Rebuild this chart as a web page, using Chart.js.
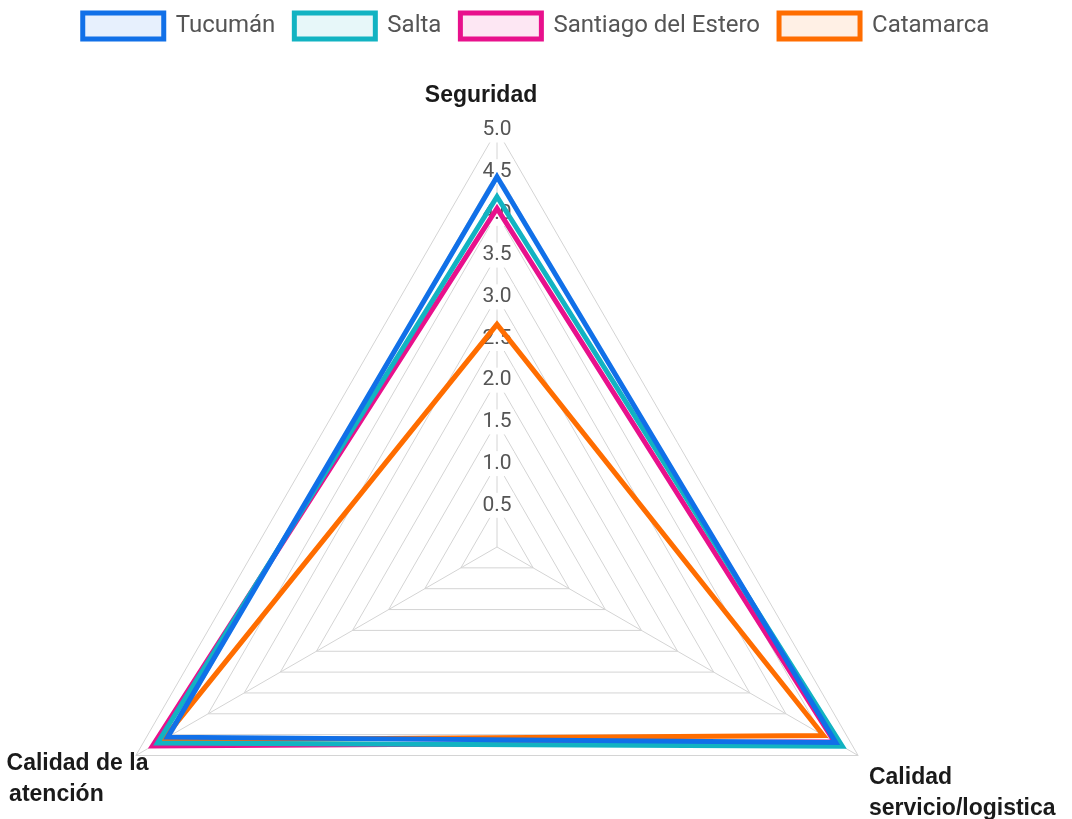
<!DOCTYPE html>
<html>
<head>
<meta charset="utf-8">
<script src="https://cdn.jsdelivr.net/npm/chart.js@4.4.0/dist/chart.umd.min.js"></script>
<style>
  html, body { margin: 0; padding: 0; background: #fff; overflow: hidden; }
  #wrap { width: 1072px; height: 819px; position: relative; }
</style>
</head>
<body>
<div id="wrap"><canvas id="c"></canvas></div>
<script>
// ---- data ----
const CATEGORIES = [
  ['Seguridad     '],
  ['Calidad', 'servicio/logistica'],
  ['Calidad de la', 'atención       ']
];
const SERIES_NAMES = ['Tucumán', 'Salta', 'Santiago del Estero', 'Catamarca'];
const TUCUMAN   = [4.44, 4.69, 4.56];
const SALTA     = [4.20, 4.78, 4.70];
const SANTIAGO  = [4.06, 4.67, 4.77];
const CATAMARCA = [2.67, 4.52, 4.63];
const TICK_LABELS = ['0.0', '0.5', '1.0', '1.5', '2.0', '2.5', '3.0', '3.5', '4.0', '4.5', '5.0'];

// ---- style ----
const LINE_COLORS = ['#1170e8', '#12b3c2', '#e8118c', '#ff6d00'];
const FILL_COLORS = ['rgba(17,112,232,0.1)', 'rgba(18,179,194,0.1)', 'rgba(232,17,140,0.1)', 'rgba(255,109,0,0.1)'];
const SERIES_VALUES = [TUCUMAN, SALTA, SANTIAGO, CATAMARCA];

// layout of the radial scale (center & radius in canvas px)
const CENTER_X = 497, CENTER_Y = 547, RADIUS = 417;

const datasets = SERIES_NAMES.map((name, i) => ({
  label: name,
  data: SERIES_VALUES[i],
  borderColor: LINE_COLORS[i],
  backgroundColor: FILL_COLORS[i],
  borderWidth: 5,
  fill: false,
  pointRadius: 0,
  pointHoverRadius: 0,
  borderJoinStyle: 'miter'
}));

new Chart(document.getElementById('c'), {
  type: 'radar',
  data: { labels: CATEGORIES, datasets },
  options: {
    responsive: true,
    maintainAspectRatio: false,
    animation: false,
    layout: { padding: { top: -6 } },
    plugins: {
      legend: {
        display: true,
        position: 'top',
        labels: {
          boxWidth: 81,
          boxHeight: 26,
          padding: 19,
          color: '#555',
          font: { family: 'Roboto', size: 24 }
        }
      },
      tooltip: { enabled: false }
    },
    scales: {
      r: {
        min: 0,
        max: 5,
        beginAtZero: true,
        afterSetDimensions(scale) {
          scale.xCenter = CENTER_X;
          scale.yCenter = CENTER_Y;
          scale.drawingArea = RADIUS;
          scale.left = -10000; scale.right = 10000;
          scale.top = -10000; scale.bottom = 10000;
        },
        ticks: {
          stepSize: 0.5,
          color: '#555',
          font: { family: 'Roboto', size: 21 },
          backdropColor: '#fff',
          backdropPadding: 2,
          z: 0,
          callback: (v, i) => TICK_LABELS[Math.round(v * 2)]
        },
        grid: { color: '#d4d4d4', lineWidth: 1, circular: false },
        angleLines: { display: true, color: '#d4d4d4', lineWidth: 1 },
        pointLabels: {
          color: '#1a1a1a',
          font: { family: "'Liberation Sans', Arial, sans-serif", size: 23, weight: 'bold', lineHeight: 1.35 },
          padding: (ctx) => [6, 0, -27][ctx.index]
        }
      }
    }
  }
});
</script>
</body>
</html>
